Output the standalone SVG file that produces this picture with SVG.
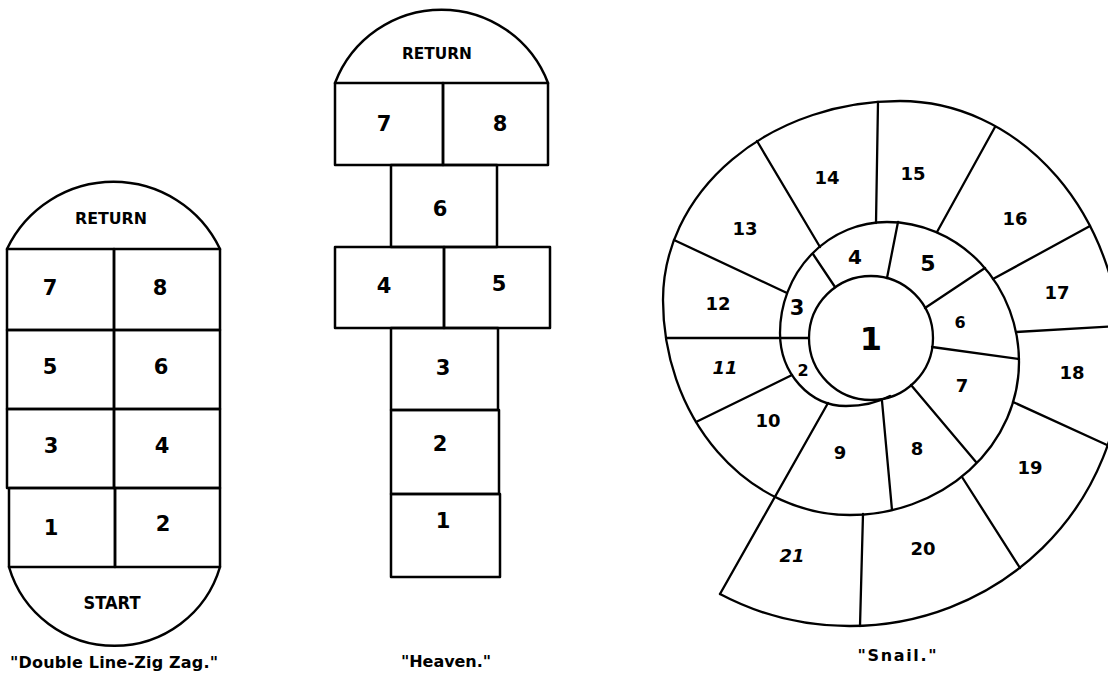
<svg xmlns="http://www.w3.org/2000/svg" width="1108" height="673" viewBox="0 0 1108 673">
<style>
.ln{fill:none;stroke:#000;stroke-width:2.5;stroke-linejoin:round;stroke-linecap:round}
.sn{fill:none;stroke:#000;stroke-width:2.3;stroke-linecap:round;stroke-linejoin:round}
.n{font-family:"DejaVu Sans","Liberation Sans",sans-serif;font-weight:bold;font-size:21px;text-anchor:middle;fill:#000}
.s{font-family:"DejaVu Sans","Liberation Sans",sans-serif;font-weight:bold;font-size:18px;text-anchor:middle;fill:#000}
.lb{font-family:"DejaVu Sans","Liberation Sans",sans-serif;font-weight:bold;text-anchor:middle;fill:#000}
.cap{font-family:"DejaVu Sans","Liberation Sans",sans-serif;font-weight:bold;font-size:16px;text-anchor:middle;fill:#000}
</style>
<rect width="1108" height="673" fill="#fff"/>

<g id="zigzag">
  <g id="zz-return"><path class="ln" d="M7 249 A118 118 0 0 1 220 249"/><text class="lb" x="111" y="223.5" style="font-size:15px" textLength="72" lengthAdjust="spacingAndGlyphs">RETURN</text></g>
  <g id="zz-7"><rect class="ln" x="7" y="249" width="107" height="81"/><text class="n" x="50" y="294.5">7</text></g>
  <g id="zz-8"><rect class="ln" x="114" y="249" width="106" height="81"/><text class="n" x="160" y="294.5">8</text></g>
  <g id="zz-5"><rect class="ln" x="7" y="330" width="107" height="79"/><text class="n" x="50" y="373.5">5</text></g>
  <g id="zz-6"><rect class="ln" x="114" y="330" width="106" height="79"/><text class="n" x="161" y="373.5">6</text></g>
  <g id="zz-3"><rect class="ln" x="7" y="409" width="107" height="79"/><text class="n" x="51" y="452.5">3</text></g>
  <g id="zz-4"><rect class="ln" x="114" y="409" width="106" height="79"/><text class="n" x="162" y="452.5">4</text></g>
  <g id="zz-1"><rect class="ln" x="9" y="488" width="106" height="79"/><text class="n" x="51" y="534.5">1</text></g>
  <g id="zz-2"><rect class="ln" x="115" y="488" width="105" height="79"/><text class="n" x="163" y="530.5">2</text></g>
  <g id="zz-start"><path class="ln" d="M9 567 A110 110 0 0 0 220 567"/><text class="lb" x="112" y="608.5" style="font-size:18px" textLength="57" lengthAdjust="spacingAndGlyphs">START</text></g>
  <text class="cap" x="114" y="668" textLength="208">"Double Line-Zig Zag."</text>
</g>

<g id="heaven">
  <g id="hv-return"><path class="ln" d="M335 83 A114 114 0 0 1 548 83"/><text class="lb" x="437" y="59" style="font-size:15px" textLength="70" lengthAdjust="spacingAndGlyphs">RETURN</text></g>
  <g id="hv-7"><rect class="ln" x="335" y="83" width="108" height="82"/><text class="n" x="384" y="131">7</text></g>
  <g id="hv-8"><rect class="ln" x="443" y="83" width="105" height="82"/><text class="n" x="500" y="131">8</text></g>
  <g id="hv-6"><rect class="ln" x="391" y="165" width="106" height="82"/><text class="n" x="440" y="215.5">6</text></g>
  <g id="hv-4"><rect class="ln" x="335" y="247" width="109" height="81"/><text class="n" x="384" y="292.5">4</text></g>
  <g id="hv-5"><rect class="ln" x="444" y="247" width="106" height="81"/><text class="n" x="499" y="290.5">5</text></g>
  <g id="hv-3"><rect class="ln" x="391" y="328" width="107" height="82"/><text class="n" x="443" y="374.5">3</text></g>
  <g id="hv-2"><rect class="ln" x="391" y="410" width="108" height="84"/><text class="n" x="440" y="450.5">2</text></g>
  <g id="hv-1"><rect class="ln" x="391" y="494" width="109" height="83"/><text class="n" x="443" y="527.5">1</text></g>
  <text class="cap" x="446" y="667" textLength="90">"Heaven."</text>
</g>

<g id="snail">
  <g id="snail-lines">
    <circle class="sn" cx="871" cy="338" r="62"/>
    <path class="sn" d="M890 396 C877 403 860 406 846 406 A66 73 0 0 1 780 333 A107 111 0 0 1 887 222 A132 140 0 0 1 1019 362 A169 153 0 0 1 850 515 A187 215 0 0 1 663 300 A237 199 0 0 1 900 101 A222 259 0 0 1 1122 360 A272 266 0 0 1 850 626 A272 266 0 0 1 720 594"/>
    <path class="sn" d="M666 338 L809 338 M835 287 L813 254 M757 141 L820 247 M887 278 L898 222 M878 102 L876 223 M995 127 L937 232 M925 308 L985 268 M1090 226 L993 279 M1016 332 L1120 326 M932 347 L1019 359 M1013 402 L1107 445 M911 385 L976 462 M962 477 L1020 568 M882 401 L892 510 M863 514 L860 626 M828 403 L720 594 M792 375 L696 422 M674 240 L787 293"/>
  </g>
  <g id="sn-1"><text class="s" x="871" y="350" style="font-size:32px">1</text></g>
  <g id="sn-2"><text class="s" x="803" y="376" style="font-size:16px">2</text></g>
  <g id="sn-3"><text class="s" x="797" y="314.5" style="font-size:21px">3</text></g>
  <g id="sn-4"><text class="s" x="855" y="264" style="font-size:20px">4</text></g>
  <g id="sn-5"><text class="s" x="928" y="271" style="font-size:22px">5</text></g>
  <g id="sn-6"><text class="s" x="960" y="328" style="font-size:16px">6</text></g>
  <g id="sn-7"><text class="s" x="962" y="392">7</text></g>
  <g id="sn-8"><text class="s" x="917" y="455">8</text></g>
  <g id="sn-9"><text class="s" x="840" y="459">9</text></g>
  <g id="sn-10"><text class="s" x="768" y="427">10</text></g>
  <g id="sn-11"><text class="s" x="725" y="374" font-style="italic">11</text></g>
  <g id="sn-12"><text class="s" x="718" y="310">12</text></g>
  <g id="sn-13"><text class="s" x="745" y="235">13</text></g>
  <g id="sn-14"><text class="s" x="827" y="184">14</text></g>
  <g id="sn-15"><text class="s" x="913" y="180">15</text></g>
  <g id="sn-16"><text class="s" x="1015" y="225">16</text></g>
  <g id="sn-17"><text class="s" x="1057" y="299">17</text></g>
  <g id="sn-18"><text class="s" x="1072" y="379">18</text></g>
  <g id="sn-19"><text class="s" x="1030" y="474">19</text></g>
  <g id="sn-20"><text class="s" x="923" y="555">20</text></g>
  <g id="sn-21"><text class="s" x="792" y="562" font-style="italic">21</text></g>
  <text class="cap" x="897" y="661" textLength="79">"Snail."</text>
</g>

<g id="connectors"/>
</svg>
